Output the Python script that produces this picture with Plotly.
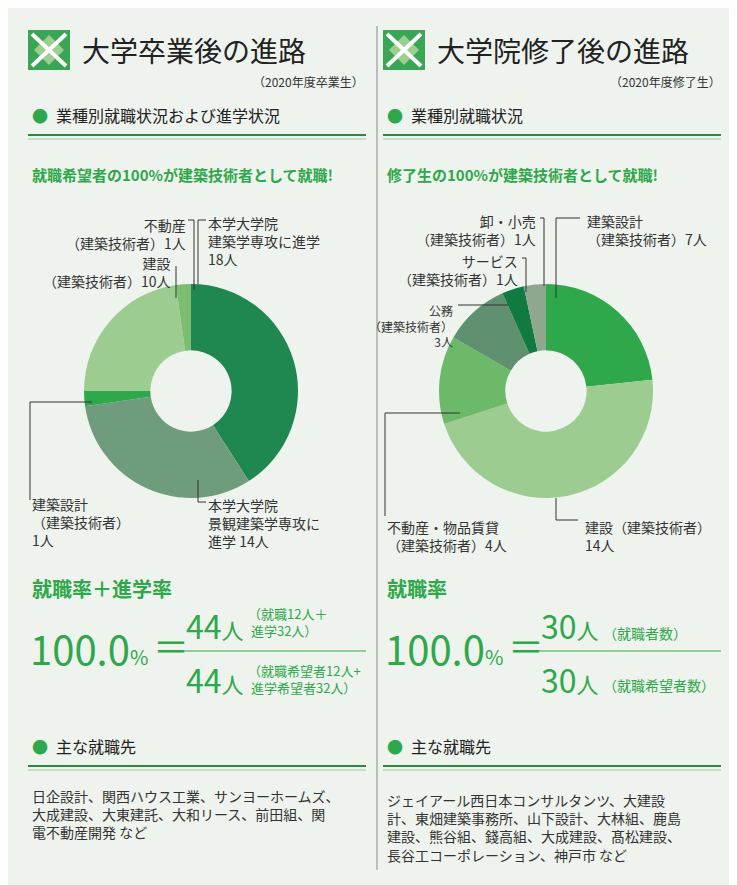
import plotly.graph_objects as go

W, H = 737, 885
FONT = "Noto Sans CJK JP"
GREEN = "#2ea84a"

# left: 大学卒業後
left_labels = ["本学大学院 建築学専攻に進学", "本学大学院 景観建築学専攻に進学", "建築設計（建築技術者）",
               "建設（建築技術者）", "不動産（建築技術者）"]
left_values = [18, 14, 1, 10, 1]
left_colors = ["#1f8750", "#6f9c7d", "#2ea84a", "#9dcc90", "#7cbd72"]

# right: 大学院修了後
right_labels = ["建築設計（建築技術者）", "建設（建築技術者）", "不動産・物品賃貸（建築技術者）",
                "公務（建築技術者）", "サービス（建築技術者）", "卸・小売（建築技術者）"]
right_values = [7, 14, 4, 3, 1, 1]
right_colors = ["#2ea84a", "#9dcc90", "#6cb96a", "#5f9171", "#107a40", "#8ea88f"]


def px(x):
    return x / W


def py(y):
    return 1 - y / H


fig = go.Figure()
for vals, labs, cols, x0 in [(left_values, left_labels, left_colors, 76),
                             (right_values, right_labels, right_colors, 431)]:
    fig.add_trace(go.Pie(values=vals, labels=labs, marker=dict(colors=cols, line=dict(width=0)),
                         hole=0.38, sort=False, direction="clockwise", rotation=0,
                         textinfo="none", hoverinfo="label+value", showlegend=False,
                         domain=dict(x=[px(x0), px(x0 + 214)], y=[py(490), py(276)])))

ann = []
shapes = []


def txt(x, y, s, size=14, color="#333", anchor="left", valign="middle"):
    ann.append(dict(x=px(x), y=py(y), xref="paper", yref="paper", text=s, showarrow=False,
                    xanchor=anchor, yanchor=valign, align=anchor,
                    font=dict(family=FONT, size=size, color=color)))


def line(x0, y0, x1, y1, color="#333", width=1):
    shapes.append(dict(type="line", xref="paper", yref="paper", x0=px(x0), y0=py(y0),
                       x1=px(x1), y1=py(y1), line=dict(color=color, width=width)))


# divider
line(369, 18, 369, 862, "#888", 1)

for off, title, year, sub, lead in [
        (0, "大学卒業後の進路", "（2020年度卒業生）", "業種別就職状況および進学状況",
         "就職希望者の100%が建築技術者として就職!"),
        (355, "大学院修了後の進路", "（2020年度修了生）", "業種別就職状況",
         "修了生の100%が建築技術者として就職!")]:
    # icon
    shapes.append(dict(type="rect", xref="paper", yref="paper", x0=px(20 + off), x1=px(62 + off),
                       y0=py(62), y1=py(22), fillcolor="#3aa655", line=dict(width=0)))
    shapes.append(dict(type="path", xref="paper", yref="paper", fillcolor="#9ccf8f",
                       line=dict(width=0),
                       path=f"M {px(41+off)},{py(27)} L {px(56+off)},{py(42)} L {px(41+off)},{py(57)} "
                            f"L {px(26+off)},{py(42)} Z"))
    line(24 + off, 26, 58 + off, 58, "white", 4)
    line(24 + off, 58, 58 + off, 26, "white", 4)
    txt(72 + off, 42, title, 28, "#222")
    txt(360 + off if off else 358, 73, year, 12, "#333", "right")
    txt(22 + off, 107, "●", 16, GREEN)
    txt(46 + off, 107, sub, 16, "#222")
    line(20 + off, 127, 358 + off, 127, "#2a8a45", 2)
    line(20 + off, 131, 358 + off, 131, "#9ccf8f", 1)
    txt(22 + off, 166, "<b>" + lead + "</b>", 15, GREEN)
    txt(22 + off, 738, "●", 16, GREEN)
    txt(46 + off, 738, "主な就職先", 16, "#222")
    line(20 + off, 758, 358 + off, 758, "#2a8a45", 2)
    line(20 + off, 762, 358 + off, 762, "#9ccf8f", 1)

# left pie labels
txt(198, 233, "本学大学院<br>建築学専攻に進学<br>18人", 14)
line(190, 276, 190, 212); line(190, 212, 198, 212)
txt(180, 226, "不動産<br>（建築技術者）1人", 14, anchor="right")
line(180, 212, 186, 212); line(186, 212, 186, 282)
txt(165, 264, "建設<br>（建築技術者）10人", 14, anchor="right")
line(168, 258, 168, 290)
txt(22, 514, "建築設計<br>（建築技術者）<br>1人", 14)
line(22, 394, 84, 394); line(22, 394, 22, 492)
txt(198, 515, "本学大学院<br>景観建築学専攻に<br>進学 14人", 14)
line(190, 472, 190, 494); line(190, 494, 198, 494)

# right pie labels
txt(577, 222, "建築設計<br>（建築技術者）7人", 14)
line(548, 210, 572, 210); line(548, 210, 548, 290)
txt(530, 222, "卸・小売<br>（建築技術者）1人", 14, anchor="right")
line(532, 210, 536, 210); line(536, 210, 536, 278)
txt(512, 262, "サービス<br>（建築技術者）1人", 14, anchor="right")
line(514, 250, 518, 250); line(518, 250, 518, 284)
txt(447, 318, "公務<br>（建築技術者）<br>3人", 12, anchor="right")
line(450, 297, 500, 297)
txt(377, 528, "不動産・物品賃貸<br>（建築技術者）4人", 14)
line(377, 405, 452, 405); line(377, 405, 377, 508)
txt(575, 528, "建設（建築技術者）<br>14人", 14)
line(548, 490, 548, 512); line(548, 512, 570, 512)

# rates
txt(22, 580, "<b>就職率＋進学率</b>", 20, GREEN)
txt(20, 640, "100.0<span style='font-size:20px'>%</span>", 40, GREEN)
txt(143, 637, "＝", 36, GREEN)
txt(176, 617, "44<span style='font-size:22px'>人</span>", 32, GREEN)
txt(238, 614, "（就職12人＋<br> 進学32人）", 13, GREEN)
line(176, 643, 358, 643, GREEN, 1)
txt(176, 671, "44<span style='font-size:22px'>人</span>", 32, GREEN)
txt(238, 671, "（就職希望者12人+<br> 進学希望者32人）", 13, GREEN)

txt(377, 580, "<b>就職率</b>", 20, GREEN)
txt(375, 640, "100.0<span style='font-size:20px'>%</span>", 40, GREEN)
txt(498, 637, "＝", 36, GREEN)
txt(531, 617, "30<span style='font-size:22px'>人</span>", 32, GREEN)
txt(593, 625, "（就職者数）", 14, GREEN)
line(531, 643, 713, 643, GREEN, 1)
txt(531, 671, "30<span style='font-size:22px'>人</span>", 32, GREEN)
txt(593, 677, "（就職希望者数）", 14, GREEN)

# employers
txt(22, 806, "日企設計、関西ハウス工業、サンヨーホームズ、<br>大成建設、大東建託、大和リース、前田組、関<br>電不動産開発 など", 14, "#333", valign="middle")
txt(377, 819, "ジェイアール西日本コンサルタンツ、大建設<br>計、東畑建築事務所、山下設計、大林組、鹿島<br>建設、熊谷組、錢高組、大成建設、髙松建設、<br>長谷工コーポレーション、神戸市 など", 14, "#333")

fig.update_layout(width=W, height=H, margin=dict(t=0, l=0, r=0, b=0),
                  paper_bgcolor="#eef3ee", plot_bgcolor="#eef3ee",
                  annotations=ann, shapes=shapes, font=dict(family=FONT))
fig.write_html("out.html")
